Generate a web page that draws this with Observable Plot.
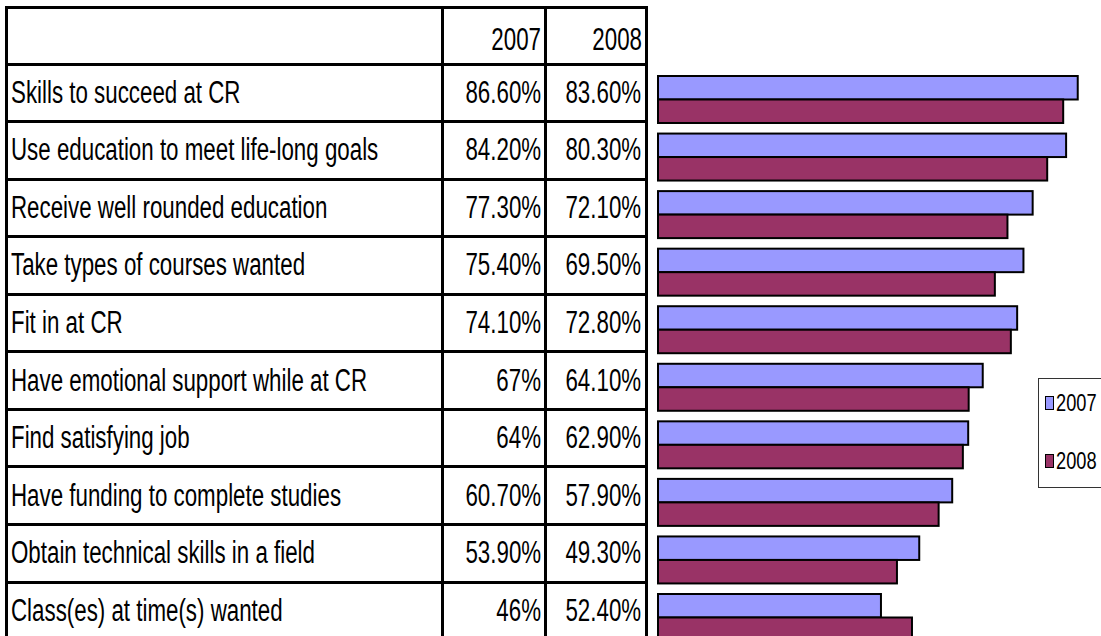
<!DOCTYPE html>
<html><head><meta charset="utf-8">
<script src="https://cdn.jsdelivr.net/npm/d3@7"></script>
<script src="https://cdn.jsdelivr.net/npm/@observablehq/plot@0.6"></script>
<style>
html,body{margin:0;padding:0;overflow:hidden;background:#fff;}
#wrap{position:relative;width:1101px;height:636px;overflow:hidden;font-family:"Liberation Sans",Arial,sans-serif;}
#chart{position:absolute;left:0;top:0;}
.cell{position:absolute;box-sizing:border-box;border:3px solid #000;font-size:31px;white-space:nowrap;color:#000;overflow:hidden;display:flex;align-items:center;padding:0 3px;}
.cell span{display:inline-block;flex-shrink:0;transform:scaleX(0.72);transform-origin:left center;}
.cell.num{justify-content:flex-end;}
.cell.num span{transform-origin:right center;}
.cell.head{align-items:flex-end;padding-bottom:5px;}
#legend{position:absolute;left:1038px;top:378px;width:80px;height:110px;box-sizing:border-box;border:1px solid #333;background:#fff;font-size:24px;}
.li{position:absolute;left:6px;display:flex;align-items:center;}
.li span{display:inline-block;transform:scaleX(0.76);transform-origin:left center;}
.sw{width:9px;height:14px;box-sizing:border-box;border:1.5px solid #000;margin-right:2px;}
</style></head>
<body><div id="wrap"><div id="chart"></div><div id="legend"></div></div>
<script>
const categories = [
  "Skills to succeed at CR",
  "Use education to meet life-long goals",
  "Receive well rounded education",
  "Take types of courses wanted",
  "Fit in at CR",
  "Have emotional support while at CR",
  "Find satisfying job",
  "Have funding to complete studies",
  "Obtain technical skills in a field",
  "Class(es) at time(s) wanted"
];
const years = ["2007", "2008"];
const values2007 = [86.6, 84.2, 77.3, 75.4, 74.1, 67, 64, 60.7, 53.9, 46];
const values2008 = [83.6, 80.3, 72.1, 69.5, 72.8, 64.1, 62.9, 57.9, 49.3, 52.4];
const colors = ["#9999FF", "#993366"];

const fmt = v => Number.isInteger(v) ? v + "%" : v.toFixed(2) + "%";

const data = [];
categories.forEach((c, i) => {
  data.push({category: c, year: "2007", value: values2007[i]});
  data.push({category: c, year: "2008", value: values2008[i]});
});

const chart = Plot.plot({
  width: 1101,
  height: 641,
  marginLeft: 658,
  marginRight: 0,
  marginTop: 76,
  marginBottom: 0,
  x: {domain: [0, 91.4], axis: null},
  y: {domain: years, axis: null, padding: 0, round: false},
  fy: {domain: categories, axis: null, paddingInner: 0.1835, paddingOuter: 0, round: false, label: null},
  color: {domain: years, range: colors},
  marks: [
    Plot.barX(data, {fy: "category", y: "year", x: "value", fill: "year", stroke: "#000", strokeWidth: 2})
  ]
});
document.getElementById("chart").appendChild(chart);

// table (HTML), rows aligned with the facet step
const wrap = document.getElementById("wrap");
const colLines = [6, 442, 545.5, 646];
const rowLines = [7.5, 64];
for (let i = 1; i <= categories.length; i++) rowLines.push(64 + i * 57.56);
function cell(r, c, text, cls) {
  const d = document.createElement("div");
  d.className = "cell" + (cls ? " " + cls : "");
  d.style.left = (colLines[c] - 1.5) + "px";
  d.style.top = (rowLines[r] - 1.5) + "px";
  d.style.width = (colLines[c + 1] - colLines[c] + 3) + "px";
  d.style.height = (rowLines[r + 1] - rowLines[r] + 3) + "px";
  const s = document.createElement("span");
  s.textContent = text;
  d.appendChild(s);
  wrap.insertBefore(d, document.getElementById("legend"));
}
cell(0, 0, "", "head");
cell(0, 1, years[0], "num head");
cell(0, 2, years[1], "num head");
categories.forEach((c, i) => {
  cell(i + 1, 0, c);
  cell(i + 1, 1, fmt(values2007[i]), "num");
  cell(i + 1, 2, fmt(values2008[i]), "num");
});

// legend
const lg = document.getElementById("legend");
years.forEach((y, i) => {
  const it = document.createElement("div");
  it.className = "li";
  it.style.top = (10 + i * 58) + "px";
  it.innerHTML = `<div class="sw" style="background:${colors[i]}"></div><span>${y}</span>`;
  lg.appendChild(it);
});
</script>
</body></html>
